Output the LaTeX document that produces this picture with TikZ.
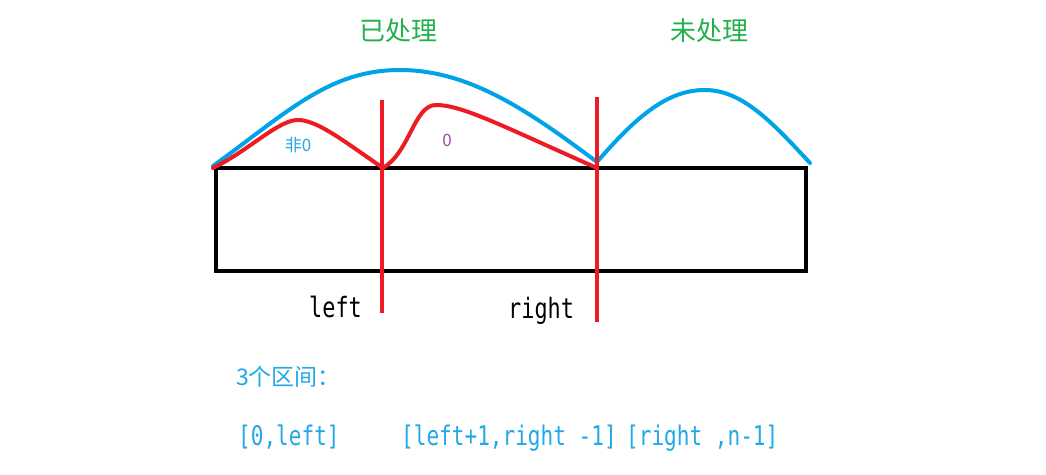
\documentclass[tikz,border=0pt]{standalone}
\usepackage{fontspec}
\setmainfont{Noto Sans CJK SC}
\newfontfamily\cjkf{Noto Sans CJK SC}
\newfontfamily\monof[FakeStretch=0.78]{DejaVu Sans Mono}
\definecolor{pgreen}{HTML}{22B14C}
\definecolor{pblue}{HTML}{00A2E8}
\definecolor{tblue}{HTML}{20A8E8}
\definecolor{pred}{HTML}{ED1C24}
\definecolor{ppurple}{HTML}{A349A4}
\tikzset{
  bluecurve/.style={draw=pblue, line width=4pt, line cap=round, line join=round},
  redcurve/.style={draw=pred, line width=4pt, line cap=round, line join=round},
  redmark/.style={draw=pred, line width=4pt},
  titletext/.style={text=pgreen, font=\cjkf\fontsize{26}{30}\selectfont, inner sep=0},
  smalltext/.style={font=\cjkf\fontsize{17}{20}\selectfont, inner sep=0},
  labeltext/.style={font=\monof\fontsize{28}{30}\selectfont, inner sep=0, anchor=base west},
  intervaltext/.style={text=tblue, font=\monof\fontsize{27}{30}\selectfont, inner sep=0, anchor=base west},
}
\begin{document}
\begin{tikzpicture}[x=1pt,y=-1pt]
\useasboundingbox (0,0) rectangle (1046,474);
% array box
\node[draw=black, line width=4pt, minimum width=590pt, minimum height=103pt, inner sep=0] (arr) at (511,219.5) {};
% key points
\coordinate (a0) at (213,166);
\coordinate (apk) at (400,70);
\coordinate (a1) at (597,162);
\coordinate (bpk) at (705,90);
\coordinate (b1) at (810,163);
\coordinate (r0) at (213,168);
\coordinate (rpk) at (300,120);
\coordinate (rl) at (383,168);
\coordinate (spk) at (436,105);
\coordinate (rr) at (597,168);
\coordinate (l1top) at (382,100);
\coordinate (l1bot) at (382,313);
\coordinate (l2top) at (597,97);
\coordinate (l2bot) at (597,322);
% blue arcs
\draw[bluecurve] (a0) .. controls (290,110) and (330,70) .. (apk)
   .. controls (470,70) and (530,112) .. (a1);
\draw[bluecurve] (a1) .. controls (640,112) and (670,90) .. (bpk)
   .. controls (742,90) and (772,122) .. (b1);
% red humps
\draw[redcurve] (r0) .. controls (250,150) and (280,118) .. (rpk)
   .. controls (320,122) and (345,142) .. (rl);
\draw[redcurve] (rl) .. controls (410,152) and (414,105) .. (spk)
   .. controls (462,105) and (500,125) .. (rr);
% red markers
\draw[redmark] (l1top) -- (l1bot);
\draw[redmark] (l2top) -- (l2bot);
% texts
\node[titletext] (done) at (398,31) {已处理};
\node[titletext] (todo) at (709,31) {未处理};
\node[smalltext, text=tblue] (nz) at (298,145) {非0};
\node[smalltext, text=ppurple] (z) at (447,140) {0};
\node[labeltext] (lleft) at (309,317) {left};
\node[labeltext] (lright) at (508,318) {right};
\node[font=\cjkf\fontsize{23}{26}\selectfont, text=tblue, inner sep=0, anchor=west] (three) at (236,377) {3个区间：};
\node[intervaltext] (i1) at (238,445) {[0,left]};
\node[intervaltext] (i2) at (401,445) {[left+1,right -1]};
\node[intervaltext] (i3) at (626,445) {[right ,n-1]};
\end{tikzpicture}
\end{document}
